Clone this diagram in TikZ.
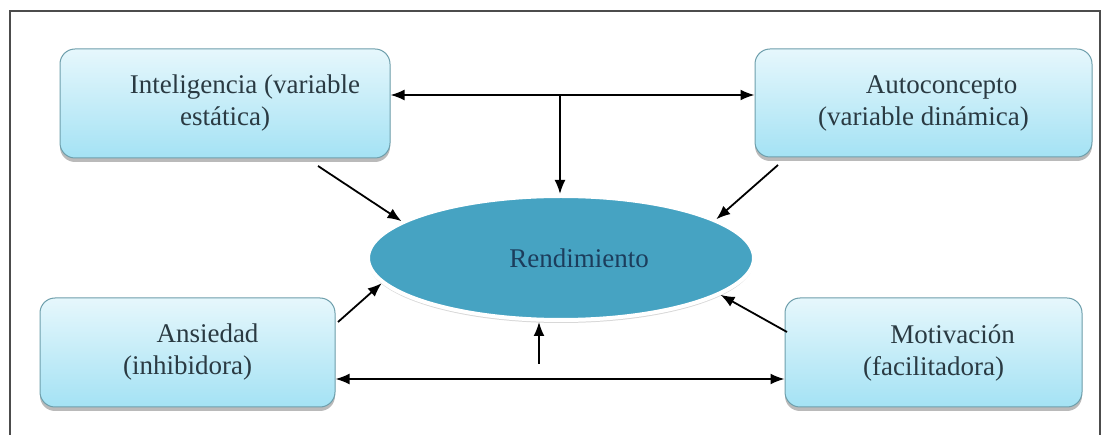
\documentclass[tikz,border=0pt]{standalone}
\usepackage{fontspec}
\setmainfont{Liberation Serif}
\usetikzlibrary{arrows.meta,shadows,shapes.geometric}
\definecolor{boxtop}{HTML}{E6F7FC}
\definecolor{boxbot}{HTML}{A4E2F4}
\definecolor{boxline}{HTML}{6E9FAC}
\definecolor{ellfill}{HTML}{46A3C2}
\definecolor{txt}{HTML}{2A3A42}
\definecolor{rtxt}{HTML}{1C3D5C}
\tikzset{
  varbox/.style={rounded corners=15pt, draw=boxline, line width=1pt,
    top color=boxtop, bottom color=boxbot, align=center, text=txt,
    font=\fontsize{27}{32}\selectfont, inner sep=0pt,
    drop shadow={shadow xshift=0pt, shadow yshift=-4pt, opacity=0.45, fill=black!60}},
  centre/.style={ellipse, fill=ellfill, draw=white, line width=4pt,
    minimum width=386pt, minimum height=124pt, inner sep=0pt,
    font=\fontsize{27}{32}\selectfont, text=rtxt,
    drop shadow={shadow xshift=0pt, shadow yshift=-3pt, opacity=0.3, fill=black!50}},
  conn/.style={line width=1.8pt, -{Latex[length=14pt,width=11pt]}},
  dconn/.style={line width=1.8pt, {Latex[length=14pt,width=11pt]}-{Latex[length=14pt,width=11pt]}},
  frame/.style={draw=black!70, line width=1.5pt}
}
\begin{document}
\begin{tikzpicture}[x=1pt,y=-1pt]
\useasboundingbox (0,0) rectangle (1106,435);
\fill[white] (0,0) rectangle (1106,435);
\draw[frame] (10,450) -- (10,11) -- (1100,11) -- (1100,450);

\node[varbox, minimum width=330pt, minimum height=109pt] (intel) at (225,103.5)
  {\hspace*{40pt}Inteligencia (variable\\estática)};
\node[varbox, minimum width=337pt, minimum height=108pt] (auto) at (923.5,103)
  {\hspace*{36pt}Autoconcepto\\(variable dinámica)};
\node[varbox, minimum width=295pt, minimum height=109pt] (ans) at (187.5,352.5)
  {\hspace*{40pt}Ansiedad\\(inhibidora)};
\node[varbox, minimum width=297pt, minimum height=109pt] (mot) at (933.5,352.5)
  {\hspace*{38pt}Motivación\\(facilitadora)};

\node[centre] (rend) at (561,258) {\hspace*{36pt}Rendimiento};

\coordinate (topmid) at (560,95);
\coordinate (botline) at (560,379);
\coordinate (i1) at (318,166);
\coordinate (a1) at (778,165);
\coordinate (n1) at (338,322);
\coordinate (m1) at (787,332);
\coordinate (bot) at (539,364);

\draw[dconn] (intel.east |- topmid) -- (auto.west |- topmid);
\draw[conn] (topmid) -- (topmid |- rend.north);
\draw[dconn] (ans.east |- botline) -- (mot.west |- botline);
\draw[conn] (bot) -- (bot |- rend.south);
\draw[conn] (i1) -- (rend.167);
\draw[conn] (a1) -- (rend.14);
\draw[conn] (n1) -- (rend.188);
\draw[conn] (m1) -- (rend.-13);
\end{tikzpicture}
\end{document}
